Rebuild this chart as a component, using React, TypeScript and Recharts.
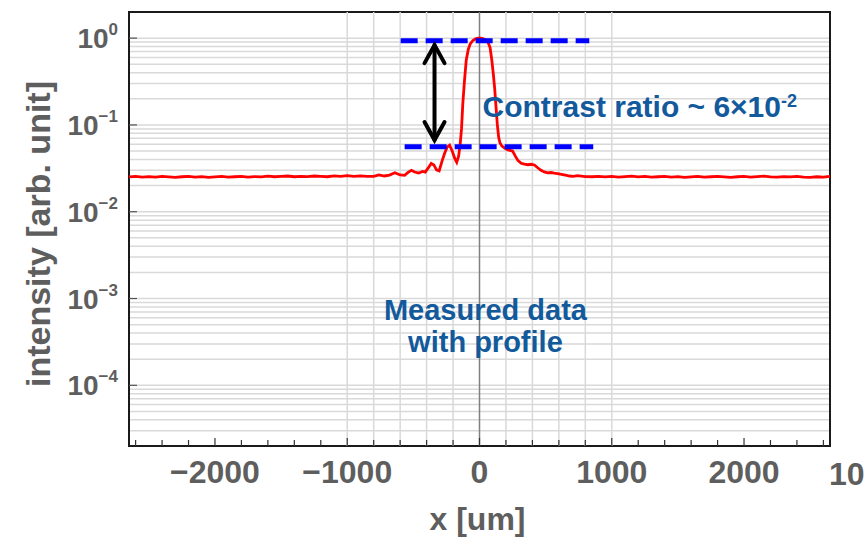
import React from 'react';
import {
  LineChart,
  Line,
  XAxis,
  YAxis,
  CartesianGrid,
  ReferenceLine,
  ReferenceArea,
  ReferenceDot,
} from 'recharts';

// ---------------------------------------------------------------------------
// Line-out intensity profile on a log axis, with the contrast-ratio markers.
// ---------------------------------------------------------------------------

// position along the line-out (um)
const xPos = [
  -2650, -2600, -2550, -2500, -2450, -2400, -2350, -2300, -2250, -2200,
  -2150, -2100, -2050, -2000, -1950, -1900, -1850, -1800, -1750, -1700,
  -1650, -1600, -1550, -1500, -1450, -1400, -1350, -1300, -1250, -1200,
  -1150, -1100, -1050, -1000, -950, -900, -850, -800,
  -760, -720, -680, -640, -600, -566, -540, -515, -490, -460,
  -430, -410, -385, -365, -345, -325, -305, -285, -265, -245,
  -226, -205, -188, -172, -158, -146, -136, -126, -113, -100,
  -85, -70, -50, -30, -10, 10, 30, 50, 65, 80,
  93, 105, 115, 125, 135, 145, 155, 170, 190, 210,
  230, 250, 270, 290, 315, 340, 365, 390, 415, 440,
  465, 490, 515, 540, 565, 590, 620, 650, 680, 710,
  740, 770, 800,
  850, 900, 950, 1000, 1050, 1100, 1150, 1200, 1250, 1300,
  1350, 1400, 1450, 1500, 1550, 1600, 1650, 1700, 1750, 1800,
  1850, 1900, 1950, 2000, 2050, 2100, 2150, 2200, 2250, 2300,
  2350, 2400, 2450, 2500, 2550, 2600, 2650,
];

// measured intensity (arb. unit)
const intensity = [
  0.0252, 0.0256, 0.0251, 0.0254, 0.0250, 0.0255, 0.0252, 0.0249, 0.0253, 0.0256,
  0.0251, 0.0254, 0.0249, 0.0252, 0.0255, 0.0250, 0.0253, 0.0256, 0.0251, 0.0254,
  0.0252, 0.0257, 0.0253, 0.0255, 0.0258, 0.0253, 0.0256, 0.0254, 0.0258, 0.0255,
  0.0253, 0.0259, 0.0256, 0.0260, 0.0255, 0.0259, 0.0256, 0.0255,
  0.0266, 0.0258, 0.0264, 0.0281, 0.0265, 0.0262, 0.0284, 0.0300, 0.0287, 0.0279,
  0.0291, 0.0286, 0.0324, 0.0360, 0.0346, 0.0304, 0.0296, 0.0375, 0.0465, 0.0555,
  0.0585, 0.0495, 0.0415, 0.0372, 0.0435, 0.0600, 0.0900, 0.178, 0.33, 0.56,
  0.74, 0.86, 0.94, 0.98, 1.0, 1.0, 0.98, 0.95, 0.89, 0.78,
  0.56, 0.38, 0.26, 0.16, 0.1, 0.072, 0.062, 0.057, 0.054, 0.052,
  0.051, 0.05, 0.044, 0.039, 0.0362, 0.0354, 0.0348, 0.0352, 0.0346, 0.0321,
  0.0300, 0.0287, 0.0281, 0.0283, 0.0278, 0.0275, 0.0270, 0.0264, 0.0258, 0.0256,
  0.0260, 0.0257, 0.0254,
  0.0253, 0.0256, 0.0252, 0.0255, 0.0251, 0.0254, 0.0257, 0.0252, 0.0255, 0.0250,
  0.0253, 0.0256, 0.0251, 0.0254, 0.0249, 0.0252, 0.0255, 0.0251, 0.0253, 0.0256,
  0.0252, 0.0249, 0.0253, 0.0255, 0.0251, 0.0254, 0.0257, 0.0252, 0.0250, 0.0254,
  0.0252, 0.0256, 0.0251, 0.0249, 0.0253, 0.0250, 0.0256,
];

const profile = xPos.map((x, i) => ({ x, v: intensity[i] }));

const xDomain = [-2650, 2650];
const yDomain = [2e-5, 2];

// bottom ticks every 200 um, labels on the thousands
const xTicks = [
  -2600, -2400, -2200, -2000, -1800, -1600, -1400, -1200, -1000, -800, -600, -400, -200,
  0, 200, 400, 600, 800, 1000, 1200, 1400, 1600, 1800, 2000, 2200, 2400, 2600,
];
// vertical grid only spans the central window
const xGrid = [-1000, -800, -600, -400, -200, 200, 400, 600, 800, 1000];

// log grid: 1..9 x 10^k
const yTicks = [
  2e-5, 3e-5, 4e-5, 5e-5, 6e-5, 7e-5, 8e-5, 9e-5,
  1e-4, 2e-4, 3e-4, 4e-4, 5e-4, 6e-4, 7e-4, 8e-4, 9e-4,
  1e-3, 2e-3, 3e-3, 4e-3, 5e-3, 6e-3, 7e-3, 8e-3, 9e-3,
  1e-2, 2e-2, 3e-2, 4e-2, 5e-2, 6e-2, 7e-2, 8e-2, 9e-2,
  1e-1, 2e-1, 3e-1, 4e-1, 5e-1, 6e-1, 7e-1, 8e-1, 9e-1,
  1, 2,
];

// contrast markers: peak level, pedestal level, double arrow
const peakLevel = 0.93;
const pedestalLevel = 0.056;
const peakSpan = [-596, 830];
const pedestalSpan = [-566, 860];
const arrowX = -340;
const arrowEnds = [0.83, 0.067];

const AXIS_GREY = '#5e5e5e';
const NOTE_BLUE = '#135a9c';
const FONT = '"Liberation Sans", Arial, sans-serif';

const XTick = (props: any) => {
  const { x, y, payload } = props;
  const v = payload.value;
  const major = v % 1000 === 0;
  return (
    <g>
      <line x1={x} y1={y} x2={x} y2={y - (major ? 8 : 6)} stroke="#333" strokeWidth={1.2} />
      {major && (
        <text x={x} y={y + 37} textAnchor="middle" fontSize={32} fontWeight="bold" fill={AXIS_GREY} fontFamily={FONT}>
          {v < 0 ? `\u2212${Math.abs(v)}` : `${v}`}
        </text>
      )}
    </g>
  );
};

const YTick = (props: any) => {
  const { x, y, payload } = props;
  const lg = Math.log10(payload.value);
  const exp = Math.round(lg);
  if (Math.abs(lg - exp) > 1e-6) return <g />;
  return (
    <g>
      <line x1={x} y1={y} x2={x + 8} y2={y} stroke="#555" strokeWidth={1.2} />
      <text x={x - 11} y={y + 10} textAnchor="end" fontWeight="bold" fill={AXIS_GREY} fontFamily={FONT}>
        <tspan fontSize={28}>10</tspan>
        <tspan fontSize={17} dy={-13}>{exp === 0 ? '0' : `\u2212${Math.abs(exp)}`}</tspan>
      </text>
    </g>
  );
};

const DoubleArrow = (props: any) => {
  const { x1, y1, x2, y2 } = props;
  const top = Math.min(y1, y2);
  const bot = Math.max(y1, y2);
  return (
    <g stroke="#000" strokeWidth={4} fill="none" strokeLinecap="round">
      <line x1={x1} y1={top} x2={x2} y2={bot} />
      <polyline points={`${x1 - 10},${top + 18} ${x1},${top} ${x1 + 10},${top + 18}`} />
      <polyline points={`${x2 - 10},${bot - 18} ${x2},${bot} ${x2 + 10},${bot - 18}`} />
    </g>
  );
};

const ContrastNote = (props: any) => (
  <text x={props.cx} y={props.cy} fontSize={30} fontWeight="bold" fill={NOTE_BLUE} fontFamily={FONT}>
    Contrast ratio ~ 6×10
    <tspan fontSize={18} dy={-10}>-2</tspan>
  </text>
);

const MeasuredNote = (props: any) => (
  <text x={props.cx} y={props.cy} fontSize={29} fontWeight="bold" fill={NOTE_BLUE} fontFamily={FONT} textAnchor="middle">
    <tspan x={props.cx}>Measured data</tspan>
    <tspan x={props.cx} dy={32}>with profile</tspan>
  </text>
);

const App: React.FC = () => (
  <div style={{ position: 'absolute', left: 0, top: 0, width: 865, height: 542, overflow: 'hidden', background: '#fff' }}>
    <LineChart width={865} height={542} data={profile} margin={{ top: 12, right: 35, left: 0, bottom: 0 }}>
      <CartesianGrid vertical={false} stroke="#d9d9d9" strokeWidth={1.5} />
      {xGrid.map((g) => (
        <ReferenceLine key={g} x={g} stroke="#d9d9d9" strokeWidth={1.5} />
      ))}
      <ReferenceLine x={0} stroke="#808080" strokeWidth={1.5} />
      <XAxis
        type="number"
        dataKey="x"
        domain={xDomain}
        ticks={xTicks}
        interval={0}
        allowDataOverflow
        axisLine={false}
        tickLine={false}
        tickSize={0}
        tickMargin={0}
        height={96}
        tick={<XTick />}
        label={(p: any) => {
          const vb = p.viewBox;
          return (
            <text x={vb.x + vb.width / 2 - 2} y={vb.y + 84} textAnchor="middle" fontSize={32} fontWeight="bold" fill={AXIS_GREY} fontFamily={FONT}>
              x [um]
            </text>
          );
        }}
      />
      <YAxis
        scale="log"
        domain={yDomain}
        ticks={yTicks}
        interval={0}
        allowDataOverflow
        axisLine={false}
        tickLine={false}
        tickSize={0}
        tickMargin={0}
        width={129}
        tick={<YTick />}
        label={(p: any) => {
          const vb = p.viewBox;
          const cx = vb.x + 50;
          const cy = vb.y + vb.height / 2 + 5;
          return (
            <text x={cx} y={cy} transform={`rotate(-90, ${cx}, ${cy})`} textAnchor="middle" fontSize={34} fontWeight="bold" fill={AXIS_GREY} fontFamily={FONT}>
              intensity [arb. unit]
            </text>
          );
        }}
      />
      <Line type="linear" dataKey="v" stroke="#ff0000" strokeWidth={2.8} dot={false} isAnimationActive={false} />
      <ReferenceLine
        segment={[{ x: peakSpan[0], y: peakLevel }, { x: peakSpan[1], y: peakLevel }]}
        stroke="#0000ff"
        strokeWidth={5}
        strokeDasharray="17 8"
      />
      <ReferenceLine
        segment={[{ x: pedestalSpan[0], y: pedestalLevel }, { x: pedestalSpan[1], y: pedestalLevel }]}
        stroke="#0000ff"
        strokeWidth={5}
        strokeDasharray="17 8"
      />
      <ReferenceLine
        segment={[{ x: arrowX, y: arrowEnds[0] }, { x: arrowX, y: arrowEnds[1] }]}
        shape={DoubleArrow}
      />
      <ReferenceDot x={23} y={0.125} r={0} shape={ContrastNote} />
      <ReferenceDot x={45} y={5.65e-4} r={0} shape={MeasuredNote} />
      <ReferenceArea
        x1={xDomain[0]}
        x2={xDomain[1]}
        y1={yDomain[0]}
        y2={yDomain[1]}
        fill="none"
        stroke="#1a1a1a"
        strokeWidth={2}
      />
    </LineChart>
    <span
      style={{
        position: 'absolute',
        left: 829,
        top: 458,
        fontFamily: FONT,
        fontSize: 32,
        fontWeight: 'bold',
        color: AXIS_GREY,
        lineHeight: '32px',
        whiteSpace: 'nowrap',
      }}
    >
      10
    </span>
  </div>
);

export default App;
